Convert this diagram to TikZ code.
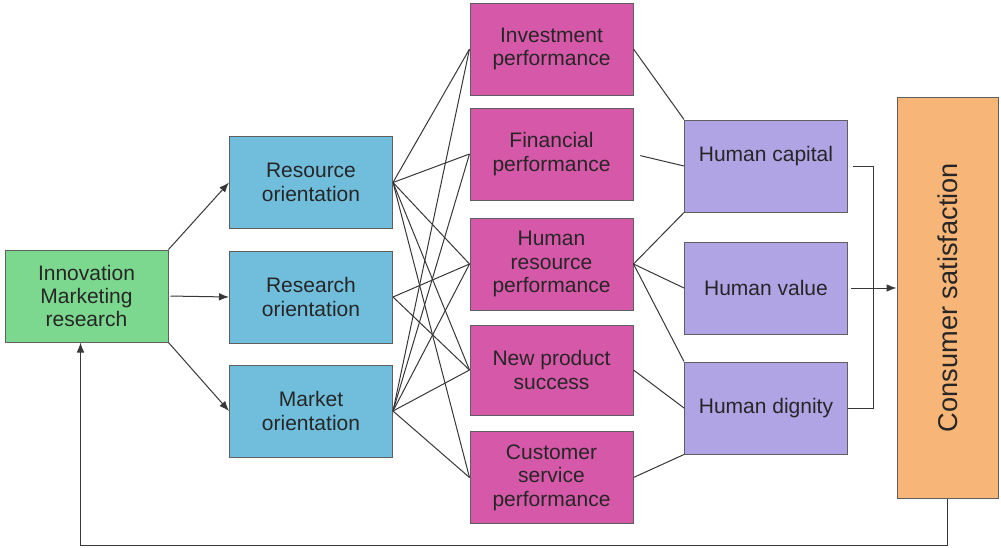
\documentclass[tikz,border=0pt]{standalone}
\usepackage{fontspec}
\setmainfont{Liberation Sans}
\usepackage{tikz}
\usepackage{xcolor}
\usetikzlibrary{shapes,arrows,arrows.meta,positioning,calc}
\definecolor{verde}{RGB}{124,216,142}
\definecolor{azzurro}{RGB}{112,190,220}
\definecolor{rosa}{RGB}{214,88,168}
\definecolor{lilla}{RGB}{176,164,228}
\definecolor{arancio}{RGB}{247,182,120}
\definecolor{bordo}{RGB}{95,95,95}
\definecolor{linea}{RGB}{55,55,55}

\begin{document}
\begin{tikzpicture}[x=0.5pt, y=-0.5pt, >={Latex[length=5pt,width=3.8pt]},
  box/.style={rectangle, draw=bordo, line width=0.5pt, minimum width=81.5pt, minimum height=46pt,
    inner sep=0pt, align=center, text=black!85, font=\fontsize{10.5}{11.7}\selectfont},
  link/.style={draw=linea, line width=0.5pt}]
\useasboundingbox (0,0) rectangle (1001,547);

% Ricerca
\node[box, fill=verde] (imr) at (86.5,296) {Innovation\\Marketing\\research};

% Orientamenti
\node[box, fill=azzurro] (ro) at (311,182.5) {Resource\\orientation};
\node[box, fill=azzurro] (rso) at (311,297) {Research\\orientation};
\node[box, fill=azzurro] (mo) at (311,411) {Market\\orientation};

% Performance
\node[box, fill=rosa] (ip) at (551.5,49) {Investment\\performance};
\node[box, fill=rosa] (fp) at (551.5,154) {Financial\\performance};
\node[box, fill=rosa] (hrp) at (551.5,264) {Human\\resource\\performance};
\node[box, fill=rosa, minimum height=45pt] (nps) at (551.5,370) {New product\\success};
\node[box, fill=rosa] (csp) at (551.5,477.5) {Customer\\service\\performance};

% Valori umani
\node[box, fill=lilla] (hc) at (766,166) {Human capital\\\mbox{}};
\node[box, fill=lilla] (hv) at (766,288) {Human value};
\node[box, fill=lilla] (hd) at (766,408) {Human dignity};

% Soddisfazione
\node[box, fill=arancio, minimum width=50.5pt, minimum height=200.5pt,
  font=\fontsize{13.6}{15}\selectfont] (cs) at (947.5,297.5) {\rotatebox{90}{Consumer satisfaction}};

\draw[link, ->] (imr.north east) -- (ro.west);
\draw[link, ->, shorten <=1pt] (imr.east) -- (rso.west);
\draw[link, ->] (imr.south east) -- (mo.west);

\foreach \p in {ip, fp, hrp, nps, csp} {
  \draw[link] (ro.east) -- (\p.west);
  \draw[link] (mo.east) -- (\p.west);
}
\draw[link] (rso.east) -- (hrp.west);
\draw[link] (rso.east) -- (nps.west);

\draw[link] (ip.east) -- (hc.north west);
\draw[link, shorten <=3.5pt] (fp.east) -- (hc.west);
\draw[link] (hrp.east) -- (hc.south west);
\draw[link] (hrp.east) -- (hv.west);
\draw[link] (hrp.east) -- (hd.north west);
\draw[link] (nps.east) -- (hd.west);
\draw[link] (csp.east) -- (hd.south west);

\draw[link, shorten <=2.5pt] (hc.east) -- ++(25,0) |- (hd.east);
\draw[link, ->, shorten <=1.5pt] (hv.east) -- (hv.east -| cs.west);

\draw[link, ->] (cs.south) -- ++(0,47) -| ($(imr.south)+(-6,0)$);
\end{tikzpicture}
\end{document}
